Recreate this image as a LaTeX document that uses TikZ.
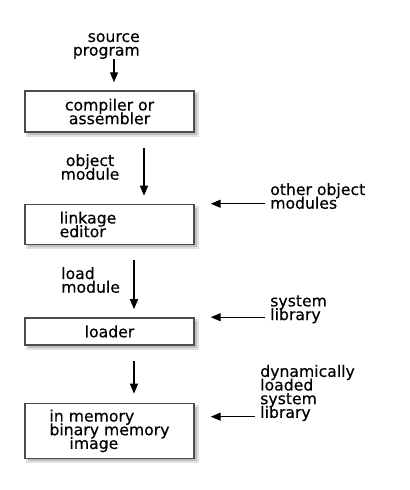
\documentclass[tikz,border=0pt]{standalone}
\usepackage{fontspec}
\setmainfont{DejaVu Sans}[FakeBold=0.4]
\usetikzlibrary{positioning,backgrounds,arrows.meta}
\newcommand\diagfont{\fontsize{11.75}{10.25}\selectfont\lineskiplimit=-100pt\relax}

\begin{document}
\begin{tikzpicture}[font=\diagfont]
\tikzstyle{box}=[rectangle, draw=black!70, line width=1.1pt, fill=white, minimum width=126.75pt, inner sep=0pt, align=center, node distance=53.25pt]
\tikzstyle{shade}=[fill=black!25, line width=1.5pt, draw=black!12]
\tikzstyle{connect}=[-{Triangle[length=7.5pt,width=6pt]}, line width=1pt]
\tikzstyle{lbl}=[inner sep=0pt]

\useasboundingbox (0,0) rectangle (307.5pt,-367.5pt);

  \node[box, minimum height=30.75pt] (comp) at (82.125pt,-83.625pt) {compiler or\\assembler};
  \node[box, minimum height=30pt, align=left, text width=74.75pt, inner xsep=26pt] (link) [below=of comp] {linkage\\editor};
  \node[box, minimum height=20.25pt] (load) [below=54pt of link] {loader};
  \node[box, minimum height=41.25pt, align=left] (mem) [below=42.75pt of load] {in memory\\binary memory\\\hspace*{15pt}image};

  \node[lbl, align=right, anchor=east] (src) at (105pt,-34.5pt) {source\\program};
  \node[lbl, align=center] (obj) at (67.5pt,-125.25pt) {object\\module};
  \node[lbl, align=left, anchor=west] (loadmod) at (45.75pt,-210pt) {load\\module};
  \node[lbl, align=left, anchor=west] (other) at (202.5pt,-147pt) {other object\\modules};
  \node[lbl, align=left, anchor=west] (syslib) at (202.5pt,-232pt) {system\\library};
  \node[lbl, align=left, anchor=west] (dynlib) at (195pt,-294.75pt) {dynamically\\loaded\\system\\library};

  % soft shadows under the boxes
  \begin{scope}[on background layer]
  \foreach \b in {comp,link,load,mem}
    \draw[shade] ([shift={(2.25pt,-2.25pt)}]\b.south west) rectangle ([shift={(2.25pt,-2.25pt)}]\b.north east);
  \end{scope}

  % down the chain
  \coordinate (t1) at ([xshift=3.375pt,yshift=6pt]comp.north);
  \draw[connect] (src.south -| t1) -- (t1);
  \draw[connect] ([xshift=25.875pt,yshift=-11.25pt]comp.south) -- ([xshift=25.875pt,yshift=6pt]link.north);
  \draw[connect] ([xshift=18.375pt,yshift=-11.25pt]link.south) -- ([xshift=18.375pt,yshift=6pt]load.north);
  \draw[connect] ([xshift=18.375pt,yshift=-11.25pt]load.south) -- ([xshift=18.375pt,yshift=6.75pt]mem.north);

  % inputs from the side
  \coordinate (in1) at ([xshift=12pt]link.north east);
  \coordinate (in2) at ([xshift=12pt]load.north east);
  \coordinate (in3) at ([xshift=12pt,yshift=-10.5pt]mem.north east);
  \draw[connect, shorten <=3.75pt] (other.west |- in1) -- (in1);
  \draw[connect, shorten <=3.75pt] (syslib.west |- in2) -- (in2);
  \draw[connect, shorten <=3.75pt] (dynlib.west |- in3) -- (in3);
\end{tikzpicture}
\end{document}
